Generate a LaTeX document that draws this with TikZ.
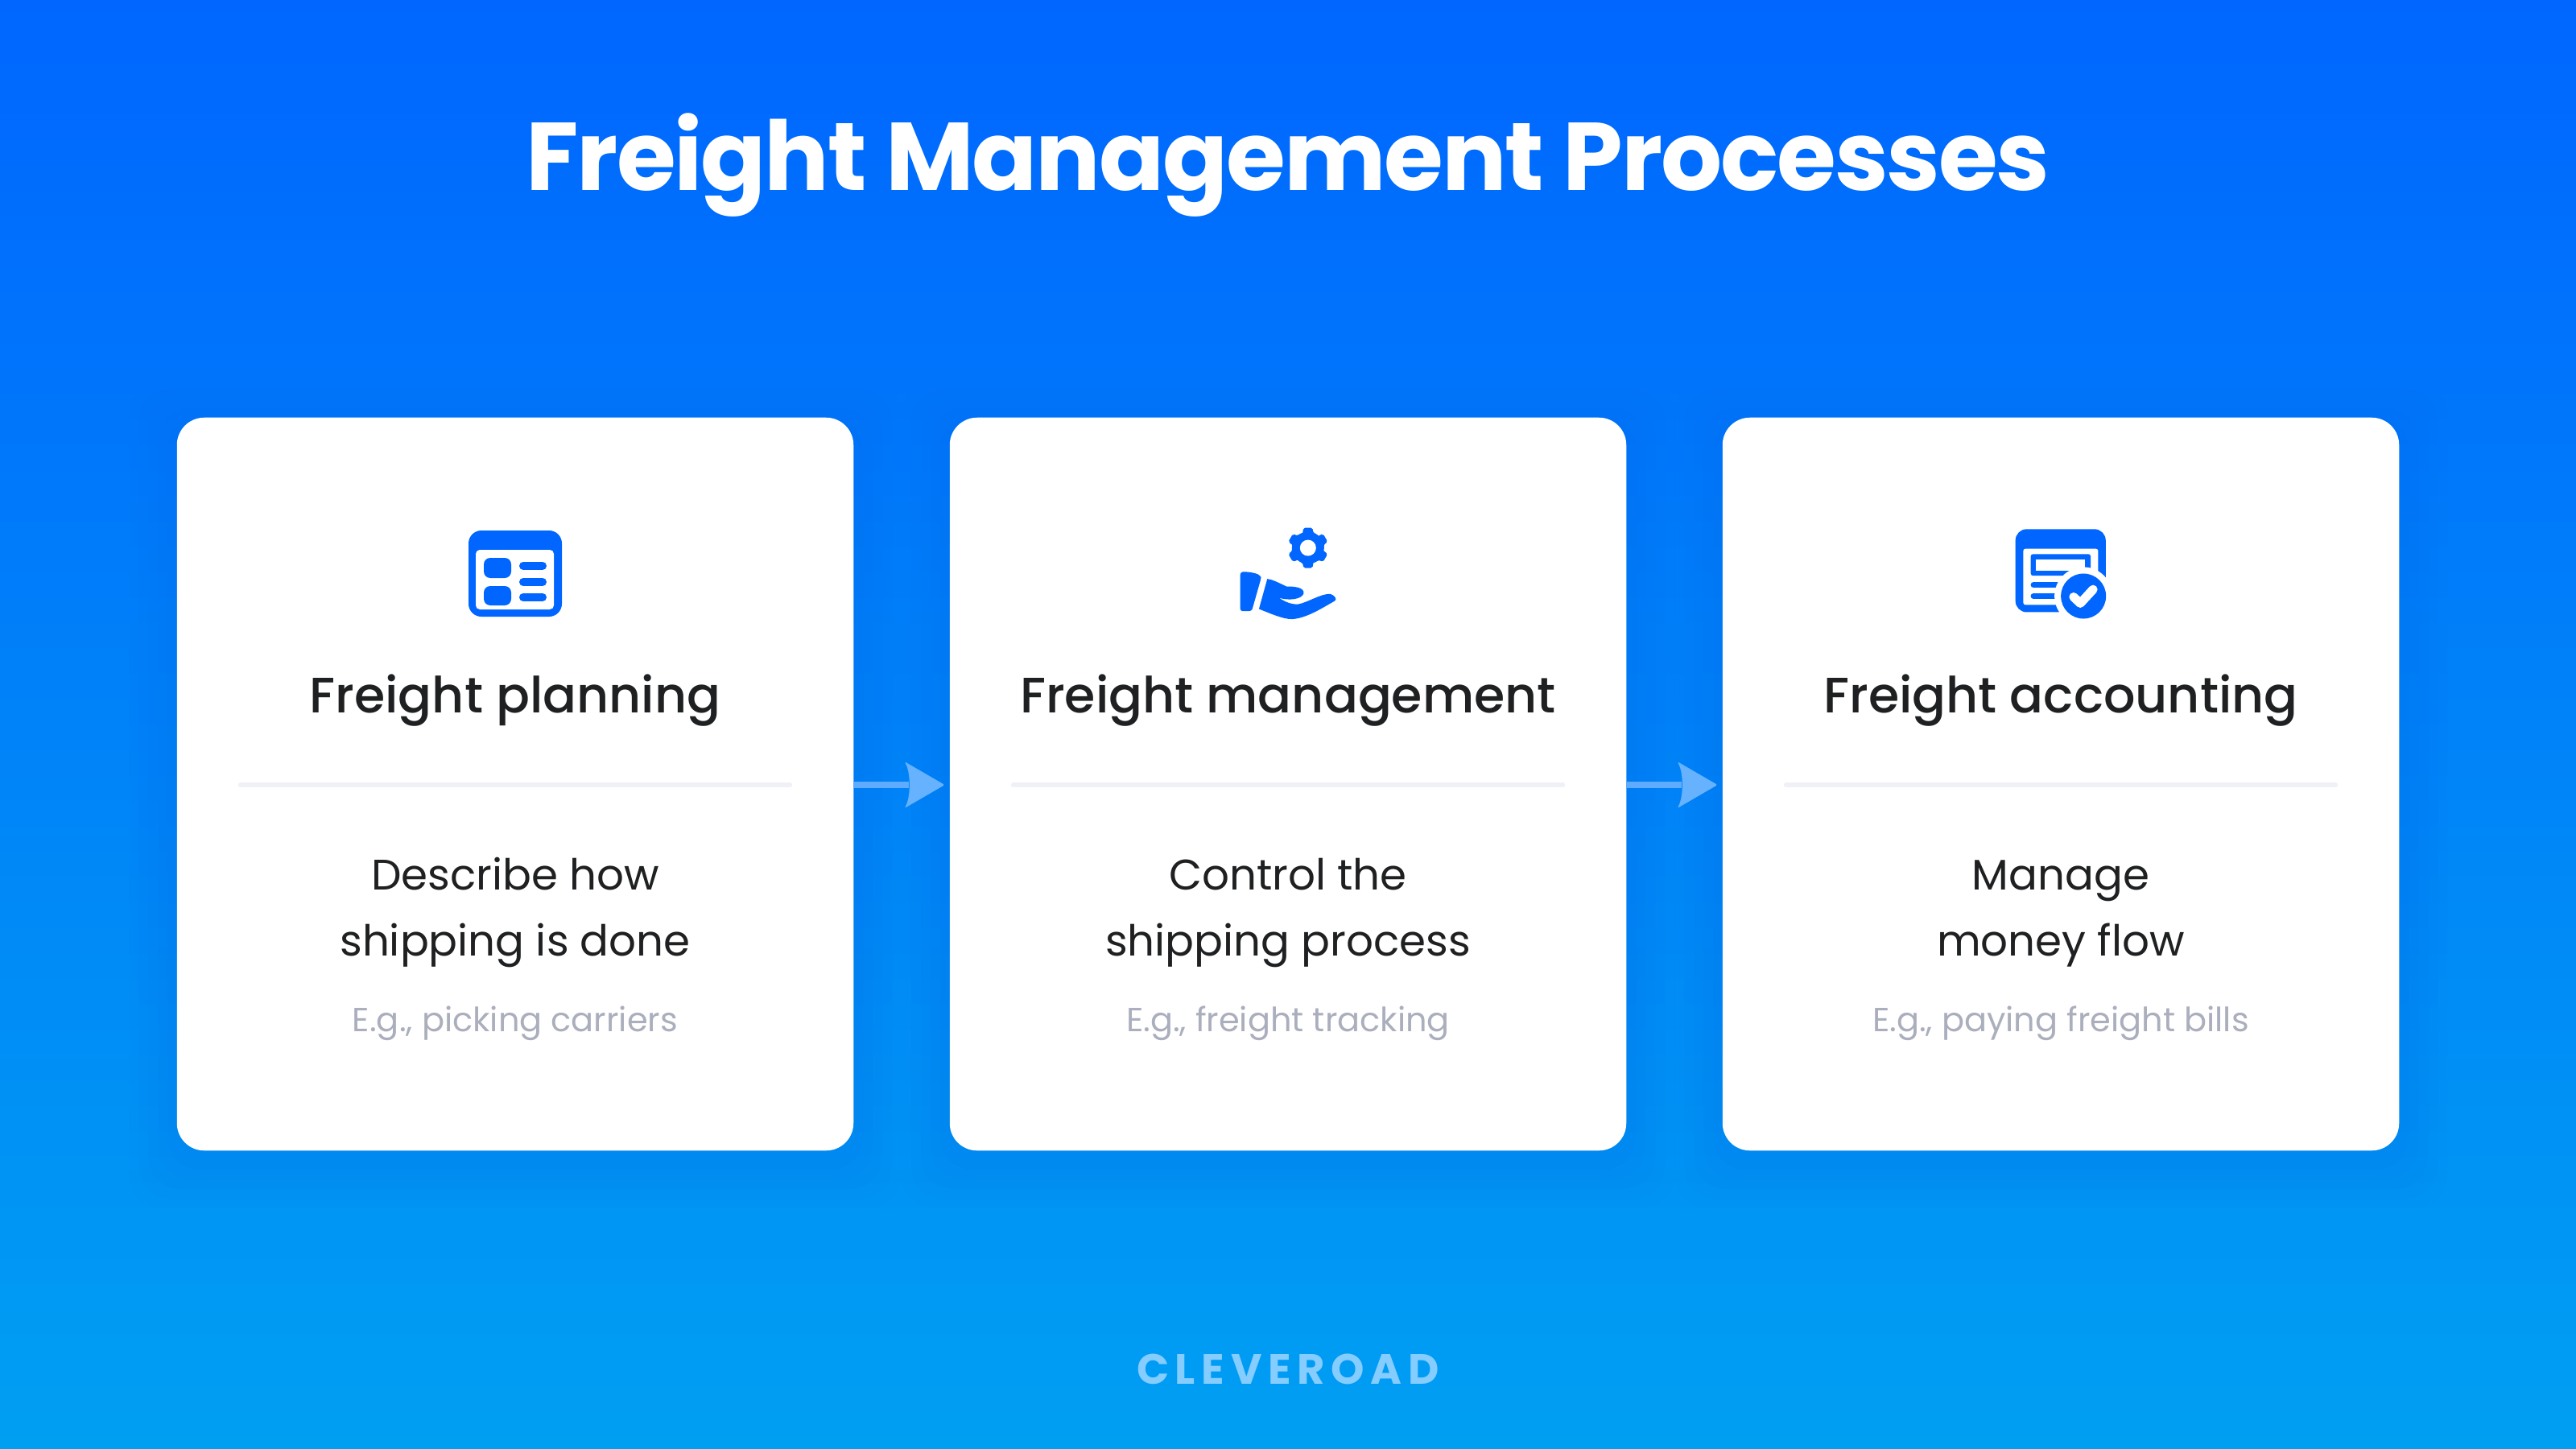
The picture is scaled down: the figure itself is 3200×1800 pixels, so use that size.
\documentclass[tikz,border=0pt]{standalone}
\usepackage{fontspec}
\usetikzlibrary{positioning}
\setmainfont{Poppins}
\newfontfamily\regfont{Poppins}
\newfontfamily\medfont{Poppins Medium}
\newfontfamily\boldfont{Poppins Bold}
\newfontfamily\titlefont{Poppins Bold}[LetterSpace=-1.75]
\definecolor{iconblue}{HTML}{0066FF}
\definecolor{arrowblue}{HTML}{66B2FF}
\definecolor{shaftblue}{HTML}{5FABFF}
\definecolor{inktext}{HTML}{1E2022}
\definecolor{greytext}{HTML}{ABAFBD}
\definecolor{rulegrey}{HTML}{EFF1F6}
\definecolor{logoblue}{HTML}{85CCFF}
\definecolor{shadowblue}{HTML}{0060E8}
\definecolor{bgtop}{HTML}{0066FF}
\definecolor{bgbot}{HTML}{009FF2}
\tikzset{
  x=0.01cm,y=-0.01cm,
  card/.style={fill=white,rounded corners=0.34cm,minimum width=8.4cm,minimum height=9.1cm,inner sep=0pt},
  softshadow/.style={fill=shadowblue,fill opacity=0.03,rounded corners=#1},
  heading/.style={anchor=base,text=inktext,font=\medfont\fontsize{17.6}{22}\selectfont,inner sep=0pt},
  bodytext/.style={anchor=base,text=inktext,font=\regfont\fontsize{15.1}{20}\selectfont,inner sep=0pt},
  exampletext/.style={anchor=base,text=greytext,font=\regfont\fontsize{11.8}{16}\selectfont,inner sep=0pt},
  rulediv/.style={draw=rulegrey,line width=0.065cm,line cap=round},
  flow/.style={draw=shaftblue,line width=0.08cm,shorten >=0.5cm},
  flowhead/.style={fill=arrowblue,draw=none,rounded corners=0.025cm},
  icon/.style={fill=iconblue,draw=none},
  iconhole/.style={fill=white,draw=none},
  iconline/.style={draw=iconblue,line cap=round,line width=#1},
}
\begin{document}
\begin{tikzpicture}
\useasboundingbox (0,0) rectangle (3200,1800);
\shade[top color=bgtop,bottom color=bgbot] (0,0) rectangle (3200,1800);
% shadows
\foreach \cx in {220,1180,2140}{
  \foreach \g in {60,48,36,24,12}{
    \fill[softshadow=0.4cm] (\cx-\g,519-\g+12) rectangle (\cx+840+\g,1429+\g+12);
  }
}
% cards
\node[card] (card1) at (640,974) {};
\node[card] (card2) at (1600,974) {};
\node[card] (card3) at (2560,974) {};
% title
\node[anchor=base,text=white,inner sep=0pt,font=\titlefont\fontsize{34}{40}\selectfont] (title) at (1600,236) {Freight Management Processes};
% dividers
\foreach \i/\cx in {1/640,2/1600,3/2560}{
  \coordinate (dl\i) at (\cx-341,975);
  \coordinate (dr\i) at (\cx+341,975);
  \draw[rulediv] (dl\i) -- (dr\i);
}
% connectors
\draw[flow] (card1.east |- dl1) -- (card2.west |- dl1);
\draw[flow] (card2.east |- dl2) -- (card3.west |- dl2);
\foreach \tgt/\lvl in {card2/dl1,card3/dl2}{
  \begin{scope}[shift={(\tgt.west |- \lvl)},xshift=-0.055cm]
    \fill[flowhead] (0,0) -- (-50,-29) .. controls (-42,-15) and (-42,15) .. (-50,29) -- cycle;
  \end{scope}
}
% texts
\node[heading] (h1) at (640,885) {Freight planning};
\node[heading] (h2) at (1600,885) {Freight management};
\node[heading] (h3) at (2560,885) {Freight accounting};
\node[bodytext] (b1a) at (640,1105) {Describe how};
\node[bodytext] (b1b) at (640,1187) {shipping is done};
\node[bodytext] (b2a) at (1600,1105) {Control the};
\node[bodytext] (b2b) at (1600,1187) {shipping process};
\node[bodytext] (b3a) at (2560,1105) {Manage};
\node[bodytext] (b3b) at (2560,1187) {money flow};
\node[exampletext] (e1) at (640,1281) {E.g., picking carriers};
\node[exampletext] (e2) at (1600,1281) {E.g., freight tracking};
\node[exampletext] (e3) at (2560,1281) {E.g., paying freight bills};
\node[anchor=base,text=logoblue,inner sep=0pt,font=\boldfont\fontsize{15}{18}\selectfont] (logo) at (1600,1719) {C\kern2.2ptL\kern2.2ptE\kern2.2ptV\kern2.2ptE\kern2.2ptR\kern2.2ptO\kern2.2ptA\kern2.2ptD};
% icon 1
\fill[icon,rounded corners=0.16cm] (582,659) rectangle (698,766);
\fill[iconhole,rounded corners=0.05cm] (591,683) -- (688,683) -- (688,757) -- (591,757) -- cycle;
\fill[icon,rounded corners=0.08cm] (601,693) rectangle (635,718);
\fill[icon,rounded corners=0.08cm] (601,728) rectangle (635,752);
\foreach \yy in {703,723,742} \draw[iconline=0.10cm] (650,\yy) -- (674,\yy);
% icon 2
\begin{scope}[shift={(1510,630)},x=0.01/3*1cm,y=-0.01/3*1cm]
 \fill[icon,rounded corners=0.02cm]
   \foreach \a in {0,60,...,300}{
     [rotate around={\a:(345,152)}]
     (345-20,152-55) -- (345-17,152-75) -- (345+17,152-75) -- (345+20,152-55) -- (345+30,152-52)
   } -- cycle;
 \fill[icon] (345,152) circle[radius=0.2cm];
 \fill[iconhole] (345,152) circle[radius=0.10cm];
 \fill[icon,rounded corners=0.03cm] (92,243) .. controls (115,240) and (150,245) .. (168,257) -- (170,265) -- (135,388) -- (92,388) -- cycle;
 \fill[icon] (193,268) .. controls (215,270) and (240,285) .. (265,296)
   .. controls (290,296) and (332,298) .. (329,322)
   .. controls (322,345) and (270,350) .. (237,338)
   .. controls (255,352) and (285,365) .. (310,362)
   .. controls (345,355) and (395,322) .. (428,324)
   .. controls (445,328) and (455,345) .. (445,350)
   .. controls (400,375) and (340,415) .. (285,418)
   .. controls (250,418) and (200,395) .. (162,380) -- cycle;
\end{scope}
% icon 3
\begin{scope}[shift={(2470,640)},x=0.01/3*1cm,y=-0.01/3*1cm]
 \fill[icon,rounded corners=0.14cm] (101,52) rectangle (438,362);
 \fill[iconhole,rounded corners=0.03cm] (130,125) rectangle (410,335);
 \fill[icon,rounded corners=0.03cm] (158,145) rectangle (382,226);
 \fill[iconhole] (178,165) rectangle (360,207);
 \draw[iconline=0.067cm] (168,260) -- (270,260);
 \draw[iconline=0.067cm] (168,302) -- (270,302);
 \fill[iconhole] (355,302) circle[radius=0.36cm];
 \fill[icon] (355,302) circle[radius=0.28cm];
 \draw[draw=white,line width=0.11cm,line cap=round,line join=round] (318,305) -- (343,329) -- (391,277);
\end{scope}
\end{tikzpicture}
\end{document}
